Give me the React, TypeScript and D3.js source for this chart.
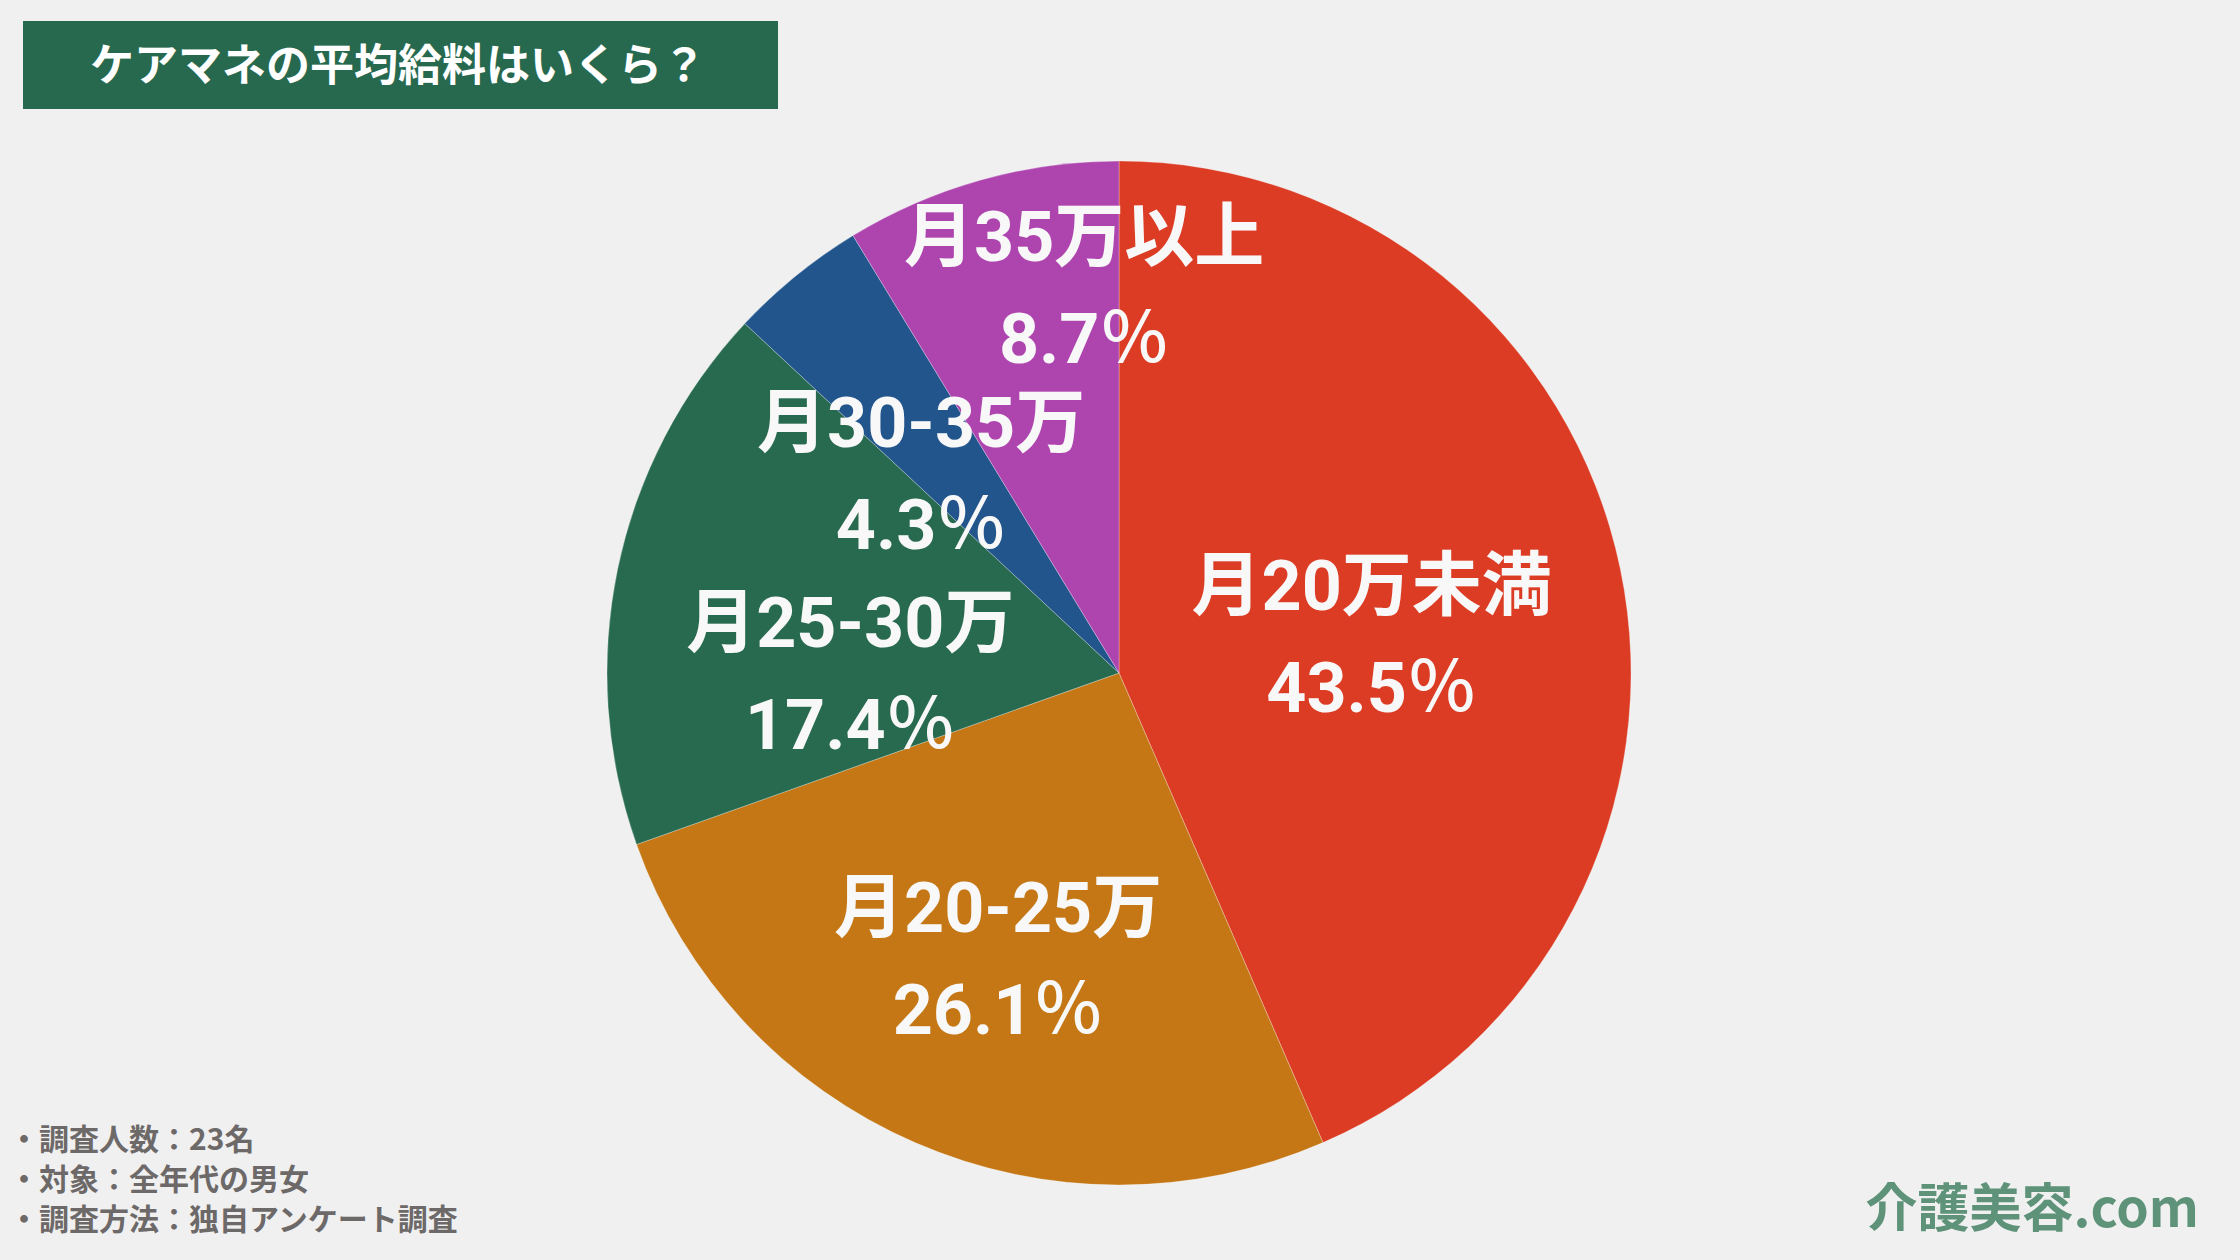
import React from "react";
import * as d3 from "d3";

const categories = ["月20万未満", "月20-25万", "月25-30万", "月30-35万", "月35万以上"];
const counts = [10, 6, 4, 1, 2];
const sliceColors = ["#DC3C24", "#C47714", "#276A4F", "#21558C", "#AE45AF"];
// label placement in polar form: angle (deg, clockwise from top), radius as fraction of pie radius
const labelAngles = [87.3, 201.3, 264.7, 311.5, 354.5];
const labelRadii = [0.494, 0.65, 0.527, 0.516, 0.709];

const titleText = "ケアマネの平均給料はいくら？";
const notes = ["・調査人数：23名", "・対象：全年代の男女", "・調査方法：独自アンケート調査"];
const logoText = "介護美容.com";

const W = 2240;
const H = 1260;
const CX = 1119;
const CY = 673;
const R = 512;

export default function App() {
  const total = d3.sum(counts);
  const pie = d3
    .pie<number>()
    .sort(null)
    .value((d) => d)
    .startAngle(0)
    .endAngle(2 * Math.PI);
  const arcs = pie(counts);
  const arc = d3.arc<d3.PieArcDatum<number>>().innerRadius(0).outerRadius(R);
  const fmt = d3.format(".1f");
  const labelFont = "Roboto, 'Noto Sans CJK JP', sans-serif";
  const jpFont = "'Noto Sans CJK JP', 'Noto Sans', sans-serif";

  return (
    <svg
      width={W}
      height={H}
      viewBox={`0 0 ${W} ${H}`}
      style={{ position: "absolute", left: 0, top: 0, display: "block" }}
    >
      <rect x={0} y={0} width={W} height={H} fill="#F0F0F0" />
      <rect x={23} y={21} width={755} height={88} fill="#27694F" />
      <text
        x={398}
        y={81}
        textAnchor="middle"
        fill="#ffffff"
        fontFamily={jpFont}
        fontWeight={700}
        fontSize={44}
      >
        {titleText}
      </text>

      <g transform={`translate(${CX},${CY})`}>
        {arcs.map((a, i) => (
          <path
            key={i}
            d={arc(a) || ""}
            fill={sliceColors[i]}
            stroke="rgba(255,255,255,0.35)"
            strokeWidth={0.8}
          />
        ))}
      </g>

      {arcs.map((a, i) => {
        const ang = (labelAngles[i] * Math.PI) / 180;
        const r = labelRadii[i] * R;
        const x = CX + r * Math.sin(ang);
        const y = CY - r * Math.cos(ang);
        const pct = fmt((counts[i] / total) * 100);
        return (
          <g key={"l" + i} fill="#F8F8F8" fontFamily={labelFont} fontWeight={700} fontSize={70} textAnchor="middle">
            <text x={x} y={y - 51}>{categories[i]}</text>
            <text x={x} y={y + 51}>
              {pct}
              <tspan fontFamily={jpFont} fontWeight={500}>％</tspan>
            </text>
          </g>
        );
      })}

      <g fill="#6D6969" fontFamily={jpFont} fontWeight={700} fontSize={30}>
        {notes.map((t, i) => (
          <text key={i} x={9} y={1150 + i * 40}>
            {t}
          </text>
        ))}
      </g>

      <text
        x={2199}
        y={1227}
        textAnchor="end"
        fill="#5E937A"
        fontFamily={jpFont}
        fontWeight={700}
        fontSize={52}
      >
        {logoText}
      </text>
    </svg>
  );
}
